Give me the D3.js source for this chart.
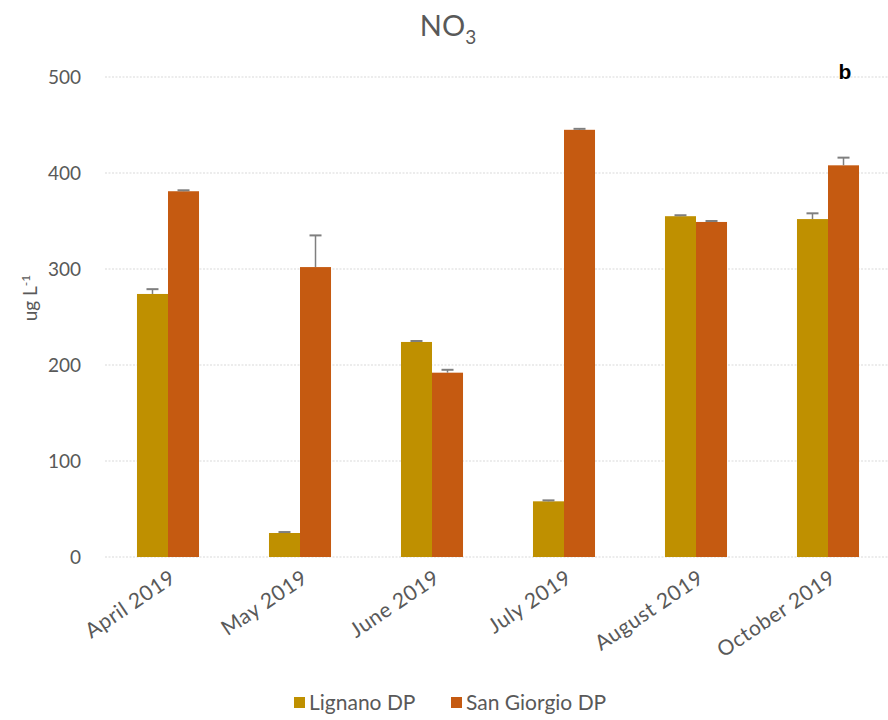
<!DOCTYPE html>
<html>
<head>
<meta charset="utf-8">
<script src="https://cdn.jsdelivr.net/npm/d3@7"></script>
<style>
  html, body { margin: 0; padding: 0; background: #fff; }
  svg { display: block; font-family: Lato, "Open Sans", sans-serif; }
</style>
</head>
<body>
<svg id="chart" width="888" height="720"></svg>
<script>
// Monthly NO3 concentrations at two sampling sites
const months = ["April 2019", "May 2019", "June 2019", "July 2019", "August 2019", "October 2019"];
const seriesNames = ["Lignano DP", "San Giorgio DP"];
const lignano = [274, 25, 224, 58, 355, 352];
const lignanoErr = [5, 1, 1, 1, 1, 6];
const sanGiorgio = [381, 302, 192, 445, 349, 408];
const sanGiorgioErr = [1, 33, 3, 1, 1, 8];
const yTicks = [0, 100, 200, 300, 400, 500];
const colors = ["#BF9000", "#C55A11"];

const svg = d3.select("#chart");
const W = 888, H = 720;
const plot = { left: 102, right: 894, top: 77, bottom: 557 };

const x0 = d3.scaleBand().domain(months).range([plot.left, plot.right])
  .paddingInner(0.53).paddingOuter(0.265);
const x1 = d3.scaleBand().domain(seriesNames).range([0, x0.bandwidth()]);
const y = d3.scaleLinear().domain([0, 500]).range([plot.bottom, plot.top]);

// gridlines
svg.append("g").selectAll("line").data(yTicks).join("line")
  .attr("x1", 105).attr("x2", W)
  .attr("y1", d => y(d)).attr("y2", d => y(d))
  .attr("stroke", "#d9d9d9").attr("stroke-width", 1.2)
  .attr("stroke-dasharray", "2,1.5");

// y axis labels
const yAxis = d3.axisLeft(y).tickValues(yTicks).tickSize(0).tickPadding(0);
const gy = svg.append("g").attr("transform", "translate(81,0)").call(yAxis);
gy.select(".domain").remove();
gy.selectAll("text").attr("fill", "#595959").attr("font-size", 19)
  .attr("font-family", "Lato, sans-serif").attr("dy", "0.35em");

// y axis title
const yt = svg.append("text")
  .attr("transform", "translate(37,298) rotate(-90)")
  .attr("text-anchor", "middle").attr("fill", "#595959").attr("font-size", 19);
yt.append("tspan").text("ug L");
yt.append("tspan").attr("dy", -7).attr("font-size", 12).text("-1");

// bars
const data = months.map((m, i) => ({
  month: m,
  values: [
    { name: seriesNames[0], v: lignano[i], e: lignanoErr[i], c: colors[0] },
    { name: seriesNames[1], v: sanGiorgio[i], e: sanGiorgioErr[i], c: colors[1] }
  ]
}));

const groups = svg.append("g").selectAll("g").data(data).join("g")
  .attr("transform", d => `translate(${x0(d.month)},0)`);

groups.selectAll("rect").data(d => d.values).join("rect")
  .attr("x", d => x1(d.name))
  .attr("y", d => y(d.v))
  .attr("width", x1.bandwidth())
  .attr("height", d => y(0) - y(d.v))
  .attr("fill", d => d.c);

// error bars (plus direction)
const eb = groups.selectAll("g.err").data(d => d.values).join("g").attr("class", "err");
eb.append("line")
  .attr("x1", d => x1(d.name) + x1.bandwidth() / 2)
  .attr("x2", d => x1(d.name) + x1.bandwidth() / 2)
  .attr("y1", d => y(d.v)).attr("y2", d => y(d.v + d.e))
  .attr("stroke", "#7f7f7f").attr("stroke-width", 1.5);
eb.append("line")
  .attr("x1", d => x1(d.name) + x1.bandwidth() / 2 - 6)
  .attr("x2", d => x1(d.name) + x1.bandwidth() / 2 + 6)
  .attr("y1", d => y(d.v + d.e)).attr("y2", d => y(d.v + d.e))
  .attr("stroke", "#7f7f7f").attr("stroke-width", 2);

// x axis labels, rotated
svg.append("g").selectAll("text").data(months).join("text")
  .attr("transform", d => `translate(${x0(d) + x0.bandwidth() / 2 + 5},${plot.bottom + 18}) rotate(-34)`)
  .attr("text-anchor", "end").attr("dy", "0.35em")
  .attr("fill", "#595959").attr("font-size", 21).attr("letter-spacing", 0.6)
  .text(d => d);

// title
const title = svg.append("text").attr("x", 448).attr("y", 36)
  .attr("text-anchor", "middle").attr("fill", "#595959").attr("font-size", 29);
title.append("tspan").text("NO");
title.append("tspan").attr("dy", 8).attr("font-size", 19).text("3");

// panel letter
svg.append("text").attr("x", 845).attr("y", 79).attr("text-anchor", "middle")
  .attr("font-weight", "bold").attr("font-size", 21).attr("fill", "#000")
  .attr("font-family", "Liberation Sans, Arial, sans-serif").text("b");

// legend
const legendX = [294, 451];
const lg = svg.append("g").selectAll("g").data(seriesNames).join("g")
  .attr("transform", (d, i) => `translate(${legendX[i]},703)`);
lg.append("rect").attr("x", 0).attr("y", -6).attr("width", 11).attr("height", 11)
  .attr("fill", (d, i) => colors[i]);
lg.append("text").attr("x", 15).attr("dy", "0.35em")
  .attr("fill", "#595959").attr("font-size", 21).text(d => d);
</script>
</body>
</html>
